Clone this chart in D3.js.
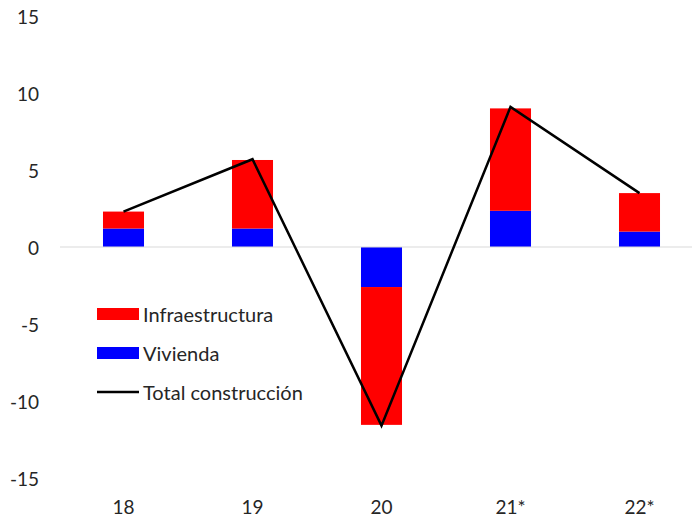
<!DOCTYPE html>
<html>
<head>
<meta charset="utf-8">
<script src="https://cdn.jsdelivr.net/npm/d3@7"></script>
<style>
  body { margin: 0; background: #fff; }
  svg text { font-family: Lato, "Open Sans", sans-serif; fill: #262626; }
</style>
</head>
<body>
<div id="chart"></div>
<script>
// Data
const years = ['18', '19', '20', '21*', '22*'];
const vivienda = [1.2, 1.2, -2.6, 2.35, 1.0];
const infraestructura = [1.1, 4.45, -8.95, 6.65, 2.5];
const totalConstruccion = [2.3, 5.7, -11.6, 9.1, 3.5];
const yTicks = [-15, -10, -5, 0, 5, 10, 15];

const W = 692, H = 521;

const svg = d3.select('#chart')
    .append('svg')
    .attr('width', W)
    .attr('height', H);

const x = d3.scaleBand()
    .domain(years)
    .range([59, 704])
    .paddingInner(0.682)
    .paddingOuter(0.341);

const y = d3.scaleLinear()
    .domain([-15, 15])
    .range([478, 16]);

// Y axis labels (no axis line)
svg.append('g')
    .selectAll('text')
    .data(yTicks)
    .enter()
    .append('text')
    .attr('x', 39)
    .attr('y', d => y(d))
    .attr('text-anchor', 'end')
    .attr('dominant-baseline', 'central')
    .style('font-size', '19px')
    .text(d => d);

// Stacked bars: vivienda nearest zero, infraestructura beyond it
const bars = svg.append('g');
years.forEach((yr, i) => {
    const v = vivienda[i];
    const inf = infraestructura[i];
    bars.append('rect')
        .attr('x', x(yr))
        .attr('width', x.bandwidth())
        .attr('y', y(Math.max(0, v)))
        .attr('height', Math.abs(y(v) - y(0)))
        .attr('fill', '#0000ff');
    bars.append('rect')
        .attr('x', x(yr))
        .attr('width', x.bandwidth())
        .attr('y', y(Math.max(v, v + inf)))
        .attr('height', Math.abs(y(v + inf) - y(v)))
        .attr('fill', '#ff0000');
});

// zero line
svg.append('line')
    .attr('x1', 60)
    .attr('x2', W)
    .attr('y1', y(0))
    .attr('y2', y(0))
    .attr('stroke', '#d9d9d9')
    .attr('stroke-width', 1.2);

// Total line
const line = d3.line()
    .x((d, i) => x(years[i]) + x.bandwidth() / 2)
    .y(d => y(d));

svg.append('path')
    .datum(totalConstruccion)
    .attr('d', line)
    .attr('fill', 'none')
    .attr('stroke', '#000')
    .attr('stroke-width', 2.5);

// X labels
svg.append('g')
    .selectAll('text')
    .data(years)
    .enter()
    .append('text')
    .attr('x', d => x(d) + x.bandwidth() / 2)
    .attr('y', 506)
    .attr('text-anchor', 'middle')
    .attr('dominant-baseline', 'central')
    .style('font-size', '19px')
    .text(d => d);

// Legend
const legend = svg.append('g');
const items = [
    { label: 'Infraestructura', type: 'rect', color: '#ff0000', cy: 314 },
    { label: 'Vivienda', type: 'rect', color: '#0000ff', cy: 353 },
    { label: 'Total construcción', type: 'line', color: '#000', cy: 392 }
];
items.forEach(it => {
    if (it.type === 'rect') {
        legend.append('rect')
            .attr('x', 97).attr('y', it.cy - 6)
            .attr('width', 42).attr('height', 12)
            .attr('fill', it.color);
    } else {
        legend.append('line')
            .attr('x1', 97).attr('x2', 139)
            .attr('y1', it.cy).attr('y2', it.cy)
            .attr('stroke', it.color)
            .attr('stroke-width', 2.5);
    }
    legend.append('text')
        .attr('x', 143)
        .attr('y', it.cy)
        .attr('dominant-baseline', 'central')
        .style('font-size', '20px')
        .text(it.label);
});
</script>
</body>
</html>
